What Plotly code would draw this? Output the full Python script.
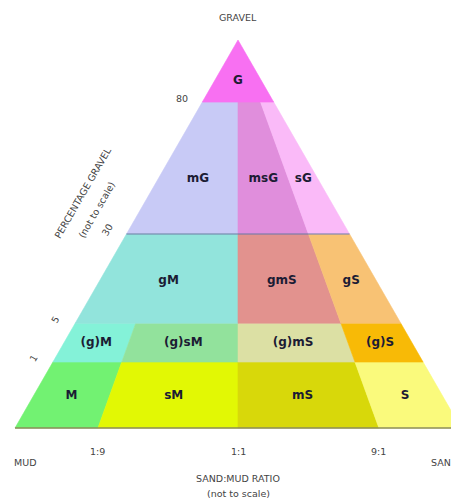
import plotly.graph_objects as go

# ---- data ----
gravel_levels = [0, 1, 5, 30, 80, 100]            # % gravel class boundaries
gravel_pos = [0.0, 0.17, 0.27, 0.50, 0.84, 1.0]    # not-to-scale height fraction of each boundary
ratio_labels = ["1:9", "1:1", "9:1"]               # sand:mud ratio boundaries
ratio_pos = [0.0, 0.186, 0.5, 0.816, 1.0]          # mud corner, 1:9, 1:1, 9:1, sand corner (not to scale)

class_names = ["M", "sM", "mS", "S",
               "(g)M", "(g)sM", "(g)mS", "(g)S",
               "gM", "gmS", "gS",
               "mG", "msG", "sG",
               "G"]
class_band = [0, 0, 0, 0, 1, 1, 1, 1, 2, 2, 2, 3, 3, 3, 4]
class_r0 = [0, 1, 2, 3, 0, 1, 2, 3, 0, 2, 3, 0, 2, 3, 0]
class_r1 = [1, 2, 3, 4, 1, 2, 3, 4, 2, 3, 4, 2, 3, 4, 4]
class_colors = ["#72F272", "#E2F804", "#D8D80A", "#FAFA7C",
                "#84F2D8", "#92E29C", "#DCE0A4", "#F8BA06",
                "#92E4DC", "#E2928E", "#F8C274",
                "#C8CAF6", "#E08EDC", "#FABAF8",
                "#F870F2"]


def pt(r, h):
    # point on line from base position r to apex (0.5, 1) at height h
    return r + (0.5 - r) * h, h


fig = go.Figure()

lab_x, lab_y = [], []
for name, b, r0i, r1i, col in zip(class_names, class_band, class_r0, class_r1, class_colors):
    h0, h1 = gravel_pos[b], gravel_pos[b + 1]
    r0, r1 = ratio_pos[r0i], ratio_pos[r1i]
    pts = [pt(r0, h0), pt(r1, h0), pt(r1, h1), pt(r0, h1)]
    xs = [p[0] for p in pts] + [pts[0][0]]
    ys = [p[1] for p in pts] + [pts[0][1]]
    fig.add_trace(go.Scatter(x=xs, y=ys, fill="toself", fillcolor=col, mode="lines",
                             line=dict(width=0.6, color=col), hoverinfo="skip",
                             showlegend=False))
    # area centroid
    A = cx = cy = 0.0
    for i in range(len(pts)):
        x0, y0 = pts[i]
        x1, y1 = pts[(i + 1) % len(pts)]
        c = x0 * y1 - x1 * y0
        A += c
        cx += (x0 + x1) * c
        cy += (y0 + y1) * c
    A /= 2
    lab_x.append(cx / (6 * A))
    lab_y.append(cy / (6 * A))

# band boundary at 30% (slightly darker)
h30 = gravel_pos[3]
xa, _ = pt(0, h30)
xb, _ = pt(1, h30)
fig.add_trace(go.Scatter(x=[xa, xb], y=[h30, h30], mode="lines",
                         line=dict(color="rgba(90,120,150,0.45)", width=2),
                         hoverinfo="skip", showlegend=False))
# base line
fig.add_trace(go.Scatter(x=[0, 1], y=[0, 0], mode="lines",
                         line=dict(color="#8C8C5A", width=1.5),
                         hoverinfo="skip", showlegend=False))

fig.add_trace(go.Scatter(x=lab_x, y=lab_y, mode="text", text=class_names,
                         textfont=dict(family="DejaVu Sans", size=12, color="#1c1c34",
                                       weight="bold"),
                         hoverinfo="skip", showlegend=False))

# page body has an 8px margin: work in page pixels minus 8
OFF = 8
W, H = 459 - OFF, 504 - OFF
x_left_px, x_base_px = 15 - OFF, 446
y_base_px, y_h_px = 428 - OFF, 388
xr = [(0 - x_left_px) / x_base_px, (W - x_left_px) / x_base_px]
yr = [(y_base_px - H) / y_h_px, y_base_px / y_h_px]


def px(xp):
    return (xp - OFF - x_left_px) / x_base_px


def py(yp):
    return (y_base_px - (yp - OFF)) / y_h_px


txt = dict(family="DejaVu Sans", size=9.5, color="#444444")
ann = []
# gravel tick labels along left edge
for lvl, h in zip(gravel_levels[1:-1], gravel_pos[1:-1]):
    ex, ey = pt(0, h)
    ann.append(dict(x=ex - 20 / x_base_px, y=ey + 4 / y_h_px, text=str(lvl), showarrow=False,
                    textangle=0 if lvl == 80 else -60, font=txt))
# ratio tick labels
for lab, r in zip(ratio_labels, ratio_pos[1:-1]):
    ann.append(dict(x=r, y=-23 / y_h_px, text=lab, showarrow=False, font=txt))

ann += [
    dict(x=0.5, y=py(17), text="GRAVEL", showarrow=False, font=txt),
    dict(x=px(25), y=py(462), text="MUD", showarrow=False, font=txt),
    dict(x=px(444), y=py(462), text="SAND", showarrow=False, font=txt),
    dict(x=0.5, y=py(478), text="SAND:MUD RATIO", showarrow=False, font=txt),
    dict(x=0.5, y=py(493), text="(not to scale)", showarrow=False, font=txt),
    dict(x=px(82), y=py(193), text="PERCENTAGE GRAVEL",
         showarrow=False, textangle=-60, font=txt),
    dict(x=px(96), y=py(210), text="(not to scale)",
         showarrow=False, textangle=-60, font=txt),
]

fig.update_layout(
    width=W, height=H, margin=dict(l=0, r=0, t=0, b=0),
    paper_bgcolor="white", plot_bgcolor="white",
    xaxis=dict(range=xr, visible=False, fixedrange=True),
    yaxis=dict(range=yr, visible=False, fixedrange=True),
    annotations=ann, showlegend=False,
)

fig.write_html("out.html")
